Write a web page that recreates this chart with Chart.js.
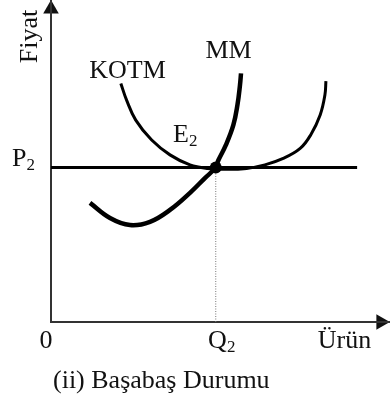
<!DOCTYPE html>
<html>
<head>
<meta charset="utf-8">
<script src="https://cdn.jsdelivr.net/npm/chart.js@4/dist/chart.umd.min.js"></script>
<style>
  html, body { margin: 0; padding: 0; background: #fff; overflow: hidden; }
  #wrap { position: relative; width: 390px; height: 401px; }
</style>
</head>
<body>
<div id="wrap"><canvas id="c"></canvas></div>
<script>
'use strict';

// Curve values in chart units (both axes 0..100).
const mmX = [11.5, 17.4, 23.3, 29.2, 35.1, 41.0, 45.4, 48.5, 49.4, 51.6, 53.8, 55.0, 55.75, 56.05];
const mmY = [37.0, 32.3, 30.1, 31.1, 34.8, 40.1, 44.7, 47.9, 50.3, 55.0, 61.2, 67.4, 73.6, 77.2];

const kotmX = [20.6, 22.3, 25.0, 29.7, 35.1, 41.0, 46.3, 52.2, 57.7, 63.1, 68.5, 73.5, 76.6, 79.4, 80.8, 81.1];
const kotmY = [74.1, 68.9, 62.7, 56.5, 51.9, 48.8, 47.7, 47.4, 47.7, 48.8, 50.8, 53.9, 58.1, 64.3, 70.5, 74.8];

const priceP2 = 48.0;
const quantityQ2 = 48.6;
const priceLineEnd = 90.3;

// Axis / curve labels
const axisLabels = { y: 'Fiyat', x: 'Ürün', origin: '0' };
const curveLabels = { ac: 'KOTM', mc: 'MM', eq: 'E' };
const tickLabels = { p: 'P', q: 'Q', sub: '2' };
const caption = '(ii) Başabaş Durumu';

const pts = (xs, ys) => xs.map((x, i) => ({ x: x, y: ys[i] }));

const FONT = '"Liberation Serif", "Times New Roman", serif';
const INK = '#111';

function subText(ctx, main, sub, x, y, size, align) {
    const subSize = Math.round(size * 0.64);
    ctx.font = size + 'px ' + FONT;
    const w1 = ctx.measureText(main).width;
    ctx.font = subSize + 'px ' + FONT;
    const w2 = ctx.measureText(sub).width;
    let left = x;
    if (align === 'center') left = x - (w1 + w2) / 2;
    ctx.textAlign = 'left';
    ctx.font = size + 'px ' + FONT;
    ctx.fillText(main, left, y);
    ctx.font = subSize + 'px ' + FONT;
    ctx.fillText(sub, left + w1, y + 4);
}

const labelsPlugin = {
    id: 'labels',
    afterDatasetsDraw(chart) {
        const ctx = chart.ctx;
        const xs = chart.scales.x;
        const ys = chart.scales.y;
        const size = 26;
        ctx.save();
        ctx.fillStyle = INK;
        ctx.textBaseline = 'alphabetic';

        // rotated y axis title
        ctx.save();
        ctx.translate(37, 36.5);
        ctx.rotate(-Math.PI / 2);
        ctx.font = size + 'px ' + FONT;
        ctx.textAlign = 'center';
        ctx.fillText(axisLabels.y, 0, 0);
        ctx.restore();

        ctx.font = size + 'px ' + FONT;
        ctx.textAlign = 'center';
        ctx.fillText(curveLabels.ac, 127.5, 78);
        ctx.fillText(curveLabels.mc, 228.5, 58);
        ctx.fillText(axisLabels.origin, 46, 348);
        ctx.fillText(axisLabels.x, 344.5, 348);

        subText(ctx, curveLabels.eq, tickLabels.sub, 173, 141.5, size, 'left');
        subText(ctx, tickLabels.p, tickLabels.sub, 12, ys.getPixelForValue(priceP2) - 1, size, 'left');
        subText(ctx, tickLabels.q, tickLabels.sub, xs.getPixelForValue(quantityQ2) + 6, 348, size, 'center');

        ctx.font = size + 'px ' + FONT;
        ctx.textAlign = 'left';
        ctx.fillText(caption, 53, 388);
        ctx.restore();
    }
};

new Chart(document.getElementById('c'), {
    type: 'scatter',
    data: {
        datasets: [
            {   // equilibrium point E2
                data: [{ x: quantityQ2, y: priceP2 }],
                pointRadius: 6, pointBackgroundColor: '#000', pointBorderWidth: 0,
                showLine: false, clip: false
            },
            {   // MM
                data: pts(mmX, mmY),
                showLine: true, borderColor: '#000', borderWidth: 4.5,
                tension: 0.4, pointRadius: 0, clip: false
            },
            {   // KOTM
                data: pts(kotmX, kotmY),
                showLine: true, borderColor: '#000', borderWidth: 3,
                tension: 0.4, pointRadius: 0, clip: false
            },
            {   // price line P2
                data: [{ x: 0, y: priceP2 }, { x: priceLineEnd, y: priceP2 }],
                showLine: true, borderColor: '#000', borderWidth: 3, pointRadius: 0, clip: false
            },
            {   // dotted guide to Q2
                data: [{ x: quantityQ2, y: 0 }, { x: quantityQ2, y: priceP2 }],
                showLine: true, borderColor: '#777', borderWidth: 1, borderDash: [1, 1.5],
                pointRadius: 0, clip: false
            },
            {   // axes
                data: [{ x: 0, y: 100 }, { x: 0, y: 0 }, { x: 100, y: 0 }],
                showLine: true, borderColor: '#333', borderWidth: 2, pointRadius: 0, clip: false
            },
            {   // arrow heads
                data: [{ x: 0, y: 97.2 }, { x: 97.3, y: 0 }],
                showLine: false, pointStyle: 'triangle', pointRadius: 9,
                pointRotation: [0, 90], pointBackgroundColor: '#111', pointBorderWidth: 0, clip: false
            }
        ]
    },
    options: {
        responsive: true,
        maintainAspectRatio: false,
        animation: false,
        layout: { autoPadding: false, padding: { left: 51, right: 0, top: 0, bottom: 79 } },
        scales: {
            x: { type: 'linear', min: 0, max: 100, display: false },
            y: { type: 'linear', min: 0, max: 100, display: false }
        },
        plugins: { legend: { display: false }, tooltip: { enabled: false } },
        events: []
    },
    plugins: [labelsPlugin]
});
</script>
</body>
</html>
